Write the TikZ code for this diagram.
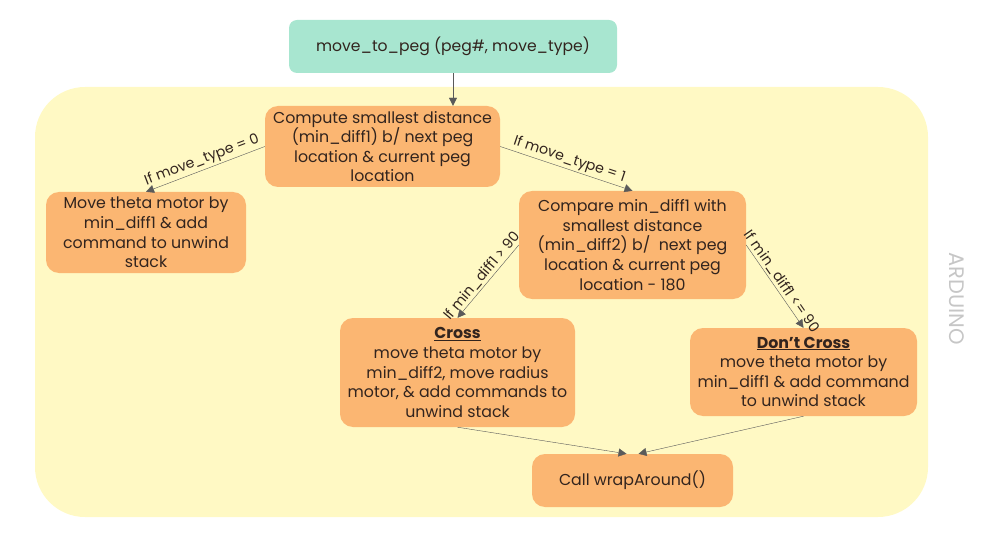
\documentclass[tikz,border=0pt]{standalone}
\usepackage{fontspec}
\setmainfont{Poppins}
\usetikzlibrary{arrows.meta}
\definecolor{pegteal}{RGB}{168,230,208}
\definecolor{steporange}{RGB}{251,182,114}
\definecolor{boardyellow}{RGB}{255,249,196}
\definecolor{linegray}{RGB}{90,90,90}
\definecolor{txtdark}{RGB}{50,36,30}
\tikzset{
  box/.style={fill=steporange, rounded corners=13pt, align=center, inner sep=0pt,
    text=txtdark, font=\fontsize{15.8}{19.6}\selectfont},
  flow/.style={draw=linegray, -{Triangle[length=8pt,width=8pt]}},
  cond/.style={sloped, above, font=\fontsize{14.2}{15}\selectfont, text=txtdark, inner sep=2pt}
}
\begin{document}
\begin{tikzpicture}[x=1pt, y=-1pt]
    \useasboundingbox (0,0) rectangle (987,545);
    % arduino board
    \fill[boardyellow, rounded corners=50pt] (35,87) rectangle (928,517);
    \node[rotate=-90, text=gray!45, font=\fontsize{21}{21}\selectfont] (arduino) at (957,299) {ARDUINO};
    % entry
    \node[fill=pegteal, rounded corners=8pt, minimum width=328pt, minimum height=53pt,
      text=txtdark, font=\fontsize{15.6}{19}\selectfont] (entry) at (453,46.5) {move\_to\_peg (peg\#, move\_type)};
    % steps
    \node[box, minimum width=235pt, minimum height=81pt] (compute) at (382.5,146.5)
      {Compute smallest distance\\(min\_diff1) b/ next peg\\location \& current peg\\location};
    \node[box, minimum width=200pt, minimum height=81pt] (direct) at (146,232.5)
      {Move theta motor by\\min\_diff1 \& add\\command to unwind\\stack};
    \node[box, minimum width=227pt, minimum height=108pt] (compare) at (632.5,245)
      {Compare min\_diff1 with\\smallest distance\\(min\_diff2) b/\ \ next peg\\location \& current peg\\location - 180};
    \node[box, minimum width=235pt, minimum height=109pt] (cross) at (457.5,372.5)
      {\underline{\textbf{Cross}}\\move theta motor by\\min\_diff2, move radius\\motor, \& add commands to\\unwind stack};
    \node[box, minimum width=227pt, minimum height=88pt] (nocross) at (803.5,372)
      {\underline{\textbf{Don't Cross}}\\move theta motor by\\min\_diff1 \& add command\\to unwind stack};
    \node[box, minimum width=201pt, minimum height=53pt] (wrap) at (632.5,480.5) {Call wrapAround()};
    % connectors
    \draw[flow] (entry.south) -- (entry.south |- compute.north);
    \draw[flow] (compute.west) -- node[cond] {If move\_type = 0} (direct.north);
    \draw[flow] (compute.east) -- node[cond] {If move\_type = 1} (compare.north);
    \draw[flow] (compare.west) -- node[cond] {If min\_diff1 > 90} (cross.north);
    \draw[flow] (compare.east) -- node[cond] {If min\_diff1 <= 90} (nocross.north);
    \draw[flow] (cross.south) -- ([xshift=-6pt]wrap.north);
    \draw[flow] (nocross.south) -- ([xshift=6pt]wrap.north);
\end{tikzpicture}
\end{document}
